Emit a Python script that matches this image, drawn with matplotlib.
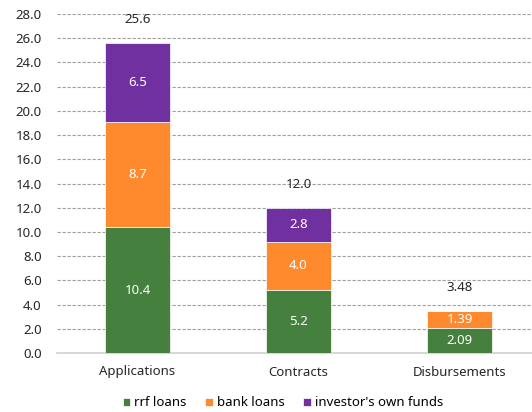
import numpy as np
import matplotlib.pyplot as plt

plt.rcParams['font.family'] = ['Noto Sans', 'DejaVu Sans']

categories = ['Applications', 'Contracts', 'Disbursements']
rrf_loans = [10.4, 5.2, 2.09]
bank_loans = [8.7, 4.0, 1.39]
own_funds = [6.5, 2.8, 0.0]
totals = ['25.6', '12.0', '3.48']
seg_labels = [['10.4', '5.2', '2.09'], ['8.7', '4.0', '1.39'], ['6.5', '2.8', '']]

series = [rrf_loans, bank_loans, own_funds]
names = ['rrf loans', 'bank loans', "investor's own funds"]
colors = ['#45803F', '#FF8A2E', '#7030A0']

fig = plt.figure(figsize=(5.32, 4.12), dpi=100)
ax = fig.add_axes([57 / 532, 59 / 412, 483 / 532, 339 / 412])

x = np.arange(len(categories))
bottom = np.zeros(len(categories))
for vals, name, col, labs in zip(series, names, colors, seg_labels):
    vals = np.array(vals)
    bars = ax.bar(x, vals, width=0.4, bottom=bottom, color=col, label=name,
                  edgecolor='white', linewidth=0.5, zorder=3)
    for i, b in enumerate(bars):
        if labs[i]:
            ax.text(x[i], bottom[i] + vals[i] / 2, labs[i], ha='center', va='center',
                    color='white', fontsize=9.5, zorder=4)
    bottom += vals

for i, t in enumerate(totals):
    ax.annotate(t, (x[i], bottom[i]), xytext=(0, 17), textcoords='offset points',
                ha='center', va='center', fontsize=9.5, color='#262626')

ax.set_ylim(0, 28)
ax.set_xlim(-0.5, 2.5)
ax.set_yticks(np.arange(0, 28.1, 2))
ax.set_yticklabels(['%.1f' % v for v in np.arange(0, 28.1, 2)])
ax.set_xticks(x)
ax.set_xticklabels(categories)
ax.tick_params(axis='both', length=0, labelsize=9.5, colors='#262626')
ax.tick_params(axis='y', pad=11)
ax.tick_params(axis='x', pad=9)
ax.yaxis.grid(True, linestyle=(0, (3, 1.5)), color='#A0A0A0', linewidth=0.8, zorder=0)
for s in ['top', 'right', 'left']:
    ax.spines[s].set_visible(False)
ax.spines['bottom'].set_color('#D0D0D0')
ax.spines['bottom'].set_linewidth(1.2)

ax.legend(loc='center', bbox_to_anchor=(283 / 532, 9 / 412), bbox_transform=fig.transFigure,
          ncol=3, frameon=False, fontsize=9.5, handlelength=0.6, handleheight=0.6,
          handletextpad=0.3, columnspacing=1.4)

fig.savefig('out.png', dpi=100)
